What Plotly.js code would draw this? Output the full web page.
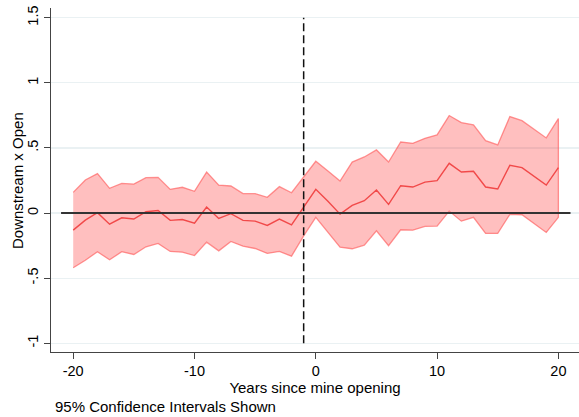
<!DOCTYPE html>
<html>
<head>
<meta charset="utf-8">
<script src="https://cdn.plot.ly/plotly-3.0.1.min.js"></script>
<style>html,body{margin:0;padding:0;background:#fff;}#chart{width:579px;height:417px;}</style>
</head>
<body>
<div id="chart"></div>
<script>
const years = [-20,-19,-18,-17,-16,-15,-14,-13,-12,-11,-10,-9,-8,-7,-6,-5,-4,-3,-2,-1,0,1,2,3,4,5,6,7,8,9,10,11,12,13,14,15,16,17,18,19,20];
const estimate = [-0.131,-0.054,0.003,-0.085,-0.036,-0.046,0.010,0.020,-0.056,-0.050,-0.077,0.046,-0.041,-0.005,-0.056,-0.062,-0.095,-0.046,-0.090,0.050,0.182,0.090,-0.008,0.059,0.095,0.177,0.067,0.210,0.200,0.238,0.249,0.382,0.315,0.321,0.200,0.185,0.367,0.349,0.285,0.215,0.349];
const upperCI = [0.159,0.254,0.303,0.190,0.228,0.223,0.272,0.274,0.182,0.198,0.167,0.315,0.215,0.208,0.149,0.149,0.121,0.203,0.156,0.280,0.398,0.323,0.246,0.392,0.431,0.485,0.392,0.546,0.536,0.574,0.600,0.749,0.695,0.677,0.556,0.523,0.741,0.710,0.646,0.577,0.726];
const lowerCI = [-0.420,-0.362,-0.297,-0.359,-0.297,-0.318,-0.259,-0.233,-0.295,-0.300,-0.326,-0.223,-0.290,-0.218,-0.254,-0.272,-0.310,-0.295,-0.331,-0.175,-0.033,-0.144,-0.262,-0.274,-0.246,-0.136,-0.251,-0.128,-0.131,-0.102,-0.100,0.015,-0.062,-0.033,-0.156,-0.156,-0.010,-0.013,-0.080,-0.149,-0.033];
const yTickVals = [-1,-0.5,0,0.5,1,1.5];
const yTickText = ['-1','-.5','0','.5','1','1.5'];
const xTickVals = [-20,-10,0,10,20];
const xTickText = ['-20','-10','0','10','20'];
const openingYear = -1;

const font = "Liberation Sans, Arial, sans-serif";

const band = {
  x: years.concat(years.slice().reverse()),
  y: upperCI.concat(lowerCI.slice().reverse()),
  type: 'scatter', mode: 'lines', fill: 'toself',
  fillcolor: 'rgba(255,0,0,0.25)',
  line: {color: 'rgba(255,90,90,0.65)', width: 1.3},
  hoverinfo: 'skip', showlegend: false
};
const line = {
  x: years, y: estimate, type: 'scatter', mode: 'lines',
  line: {color: 'rgba(240,60,60,0.9)', width: 1.4},
  showlegend: false
};

const layout = {
  width: 579, height: 417,
  margin: {l: 51, r: 0, t: 8, b: 65},
  paper_bgcolor: '#fff', plot_bgcolor: '#fff',
  font: {family: font, color: '#000', size: 14},
  showlegend: false,
  xaxis: {
    range: [-21.83, 21.7], tickvals: xTickVals, ticktext: xTickText,
    ticks: 'outside', ticklen: 6, tickcolor: '#444', tickwidth: 1,
    showgrid: false, zeroline: false, showline: true, linecolor: '#444', linewidth: 1,
    tickfont: {size: 14.5, family: font, color: '#000'},
    title: {text: 'Years since mine opening', font: {size: 15, family: font, color: '#000'}, standoff: 2}
  },
  yaxis: {
    range: [-1.067, 1.575], tickvals: yTickVals, ticktext: yTickText,
    tickangle: -90,
    ticks: 'outside', ticklen: 6, tickcolor: '#444', tickwidth: 1,
    showgrid: true, gridcolor: '#eaf1f3', gridwidth: 1.2,
    zeroline: false, showline: true, linecolor: '#444', linewidth: 1,
    tickfont: {size: 14.5, family: font, color: '#000'}
  },
  shapes: [
    {type: 'line', xref: 'x', yref: 'y', x0: -21, x1: 21, y0: 0, y1: 0,
     line: {color: '#333', width: 2}, layer: 'above'},
    {type: 'line', xref: 'x', yref: 'y', x0: openingYear, x1: openingYear, y0: -1, y1: 1.5,
     line: {color: '#111', width: 1.5, dash: '8px,4px'}, layer: 'above'}
  ],
  annotations: [
    {text: 'Downstream x Open', xref: 'paper', yref: 'paper',
     x: -0.0644, y: 0.5, xanchor: 'center', yanchor: 'middle', textangle: -90, showarrow: false,
     font: {size: 15, family: font, color: '#000'}},
    {text: '95% Confidence Intervals Shown', xref: 'paper', yref: 'paper',
     x: 0.004, y: -0.157, xanchor: 'left', yanchor: 'middle', showarrow: false,
     font: {size: 15, family: font, color: '#000'}}
  ]
};

Plotly.newPlot('chart', [band, line], layout, {displayModeBar: false, staticPlot: true});
</script>
</body>
</html>
